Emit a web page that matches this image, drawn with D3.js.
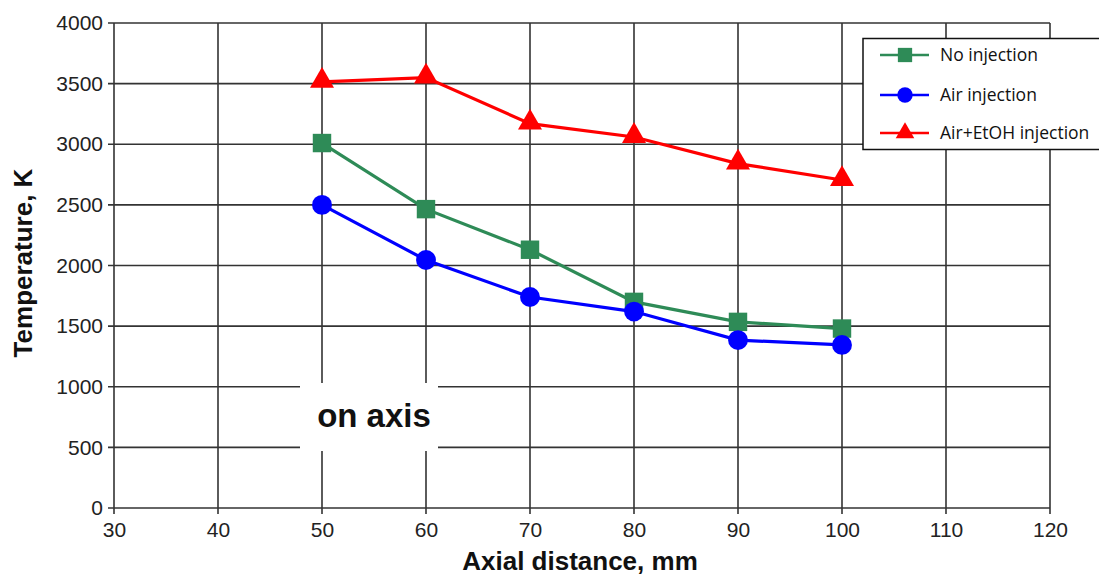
<!DOCTYPE html>
<html><head><meta charset="utf-8">
<script src="https://cdn.jsdelivr.net/npm/d3@7"></script>
<style>body{margin:0;background:#fff}svg{display:block}</style>
</head><body>
<svg id="c" width="1099" height="576"></svg>
<script>
const xValues = [50, 60, 70, 80, 90, 100];
const noInjection = [3010, 2465, 2130, 1700, 1535, 1480];
const airInjection = [2500, 2045, 1740, 1620, 1385, 1345];
const airEtohInjection = [3515, 3550, 3170, 3060, 2840, 2705];
const xTicks = [30, 40, 50, 60, 70, 80, 90, 100, 110, 120];
const yTicks = [0, 500, 1000, 1500, 2000, 2500, 3000, 3500, 4000];
const seriesNames = ["No injection", "Air injection", "Air+EtOH injection"];

const svg = d3.select("#c");
const L = 114, R = 1050, T = 23, B = 508;
const x = d3.scaleLinear().domain([30, 120]).range([L, R]);
const y = d3.scaleLinear().domain([0, 4000]).range([B, T]);
const gridColor = "#333";

// grid
const g = svg.append("g");
g.selectAll(".vx").data(xTicks).join("line")
  .attr("x1", d => x(d)).attr("x2", d => x(d)).attr("y1", T).attr("y2", B + 6)
  .attr("stroke", gridColor).attr("stroke-width", 1.6);
g.selectAll(".hy").data(yTicks).join("line")
  .attr("x1", L - 6).attr("x2", R).attr("y1", d => y(d)).attr("y2", d => y(d))
  .attr("stroke", gridColor).attr("stroke-width", 1.6);

// axes labels
const axisFont = "'Liberation Sans', Arial, sans-serif";
const fmt = d3.format("d");
const xAxis = d3.axisBottom(x).tickValues(xTicks).tickFormat(fmt).tickSize(0).tickPadding(14);
const xg = svg.append("g").attr("transform", `translate(0,${B})`).call(xAxis);
xg.select(".domain").remove();
xg.selectAll("text").attr("font-family", axisFont).attr("font-size", 21).attr("fill", "#222");
const yAxis = d3.axisLeft(y).tickValues(yTicks).tickFormat(fmt).tickSize(0).tickPadding(11);
const yg = svg.append("g").attr("transform", `translate(${L},0)`).call(yAxis);
yg.select(".domain").remove();
yg.selectAll("text").attr("font-family", axisFont).attr("font-size", 21).attr("fill", "#222");

// on axis box
svg.append("rect").attr("x", 300).attr("y", 383).attr("width", 138).attr("height", 68).attr("fill", "#fff");
svg.append("text").attr("x", 374).attr("y", 427).attr("text-anchor", "middle")
  .attr("font-family", axisFont).attr("font-weight", "bold").attr("font-size", 33).attr("fill", "#111")
  .text("on axis");

// axis titles
svg.append("text").attr("x", 580).attr("y", 570).attr("text-anchor", "middle")
  .attr("font-family", axisFont).attr("font-weight", "bold").attr("font-size", 26).attr("fill", "#111")
  .text("Axial distance, mm");
svg.append("text").attr("transform", "translate(32,263) rotate(-90)").attr("text-anchor", "middle")
  .attr("font-family", axisFont).attr("font-weight", "bold").attr("font-size", 26).attr("fill", "#111")
  .text("Temperature, K");

const series = [
  {name: seriesNames[0], vals: noInjection, color: "#2e8b57", sym: d3.symbolSquare, size: 340},
  {name: seriesNames[1], vals: airInjection, color: "#0000ff", sym: d3.symbolCircle, size: 310},
  {name: seriesNames[2], vals: airEtohInjection, color: "#ff0000", sym: d3.symbolTriangle, size: 250}
];
const line = d3.line().x(d => x(d[0])).y(d => y(d[1]));
series.forEach(s => {
  const pts = xValues.map((v, i) => [v, s.vals[i]]);
  svg.append("path").attr("d", line(pts)).attr("fill", "none").attr("stroke", s.color).attr("stroke-width", 3.2);
  svg.selectAll(null).data(pts).join("path")
    .attr("transform", d => `translate(${x(d[0])},${y(d[1]) + (s.sym === d3.symbolTriangle ? -1 : 0)})`)
    .attr("d", d3.symbol(s.sym, s.size)).attr("fill", s.color);
});

// legend
const lg = svg.append("g");
lg.append("rect").attr("x", 863).attr("y", 38.5).attr("width", 250).attr("height", 111)
  .attr("fill", "#fff").attr("stroke", "#111").attr("stroke-width", 1.5);
const rows = [55, 95, 133];
series.forEach((s, i) => {
  lg.append("line").attr("x1", 880).attr("x2", 929).attr("y1", rows[i]).attr("y2", rows[i])
    .attr("stroke", s.color).attr("stroke-width", 2.5);
  lg.append("path").attr("transform", `translate(905,${rows[i]})`).attr("d", d3.symbol(s.sym, s.size * 0.6)).attr("fill", s.color);
  lg.append("text").attr("x", 940).attr("y", rows[i] + 6).attr("font-family", "'Open Sans', sans-serif")
    .attr("font-size", 17.5).attr("fill", "#111").text(s.name);
});
</script>
</body></html>
